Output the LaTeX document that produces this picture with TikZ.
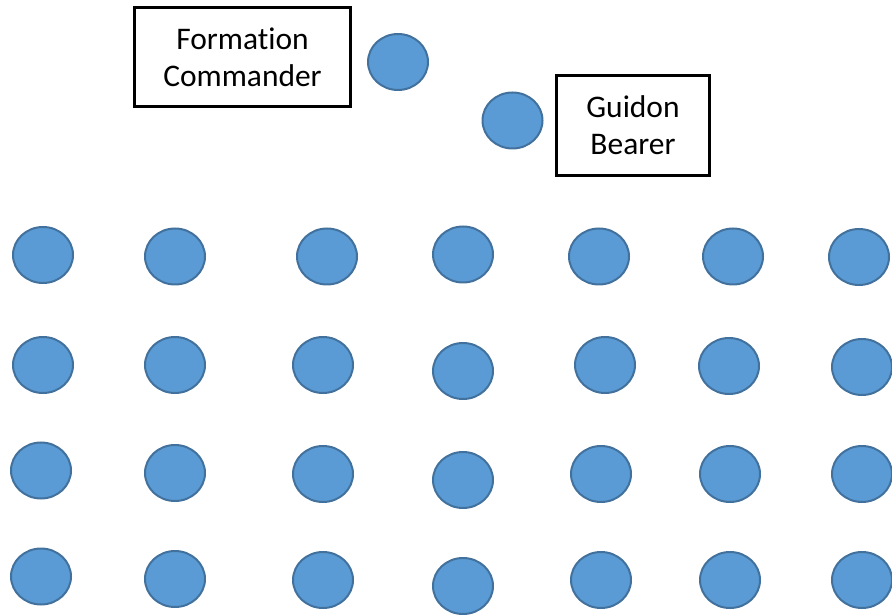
\documentclass[tikz,border=0pt]{standalone}
\usepackage{fontspec}
\setmainfont{Carlito}[Ligatures=NoCommon]
\usetikzlibrary{shapes.geometric}
\definecolor{cadetfill}{HTML}{5B9BD5}
\definecolor{cadetline}{HTML}{41719C}
\begin{document}
\begin{tikzpicture}[x=0.75pt,y=-0.75pt,
    cadet/.style={ellipse,draw=cadetline,fill=cadetfill,line width=1.5pt,
      inner sep=0pt,minimum width=45pt,minimum height=42pt},
    rolebox/.style={draw=black,line width=2.25pt,align=center,inner sep=0pt,
      font=\fontsize{23.6}{28}\selectfont}]
  \useasboundingbox (0,0) rectangle (892,616);
  % leaders
  \node[rolebox,minimum width=162pt,minimum height=74.25pt] (fc) at (242.5,57) {Formation\\Commander};
  \node[cadet] (fcpos) at (398,62) {};
  \node[rolebox,minimum width=114.75pt,minimum height=75pt] (gb) at (633,125.5) {Guidon\\Bearer};
  \node[cadet] (gbpos) at (512.5,120.5) {};
  % flight, rows from front to rear
  \foreach \x/\y/\n in {43/255/a1, 175/256.5/a2, 327/256.5/a3, 463/254.5/a4, 599/256.5/a5, 733/256.5/a6, 859/257/a7,
                        43/365/b1, 175/365/b2, 323/365/b3, 463/371/b4, 605/365/b5, 729/366/b6, 862/367/b7,
                        41/470.5/c1, 175/473/c2, 323/474/c3, 463/480/c4, 601/474/c5, 730/474/c6, 862/474/c7,
                        41/576.5/d1, 175/579/d2, 323/580/d3, 463/586/d4, 601/580/d5, 730/580/d6, 862/580/d7}
    \node[cadet] (\n) at (\x,\y) {};
\end{tikzpicture}
\end{document}
